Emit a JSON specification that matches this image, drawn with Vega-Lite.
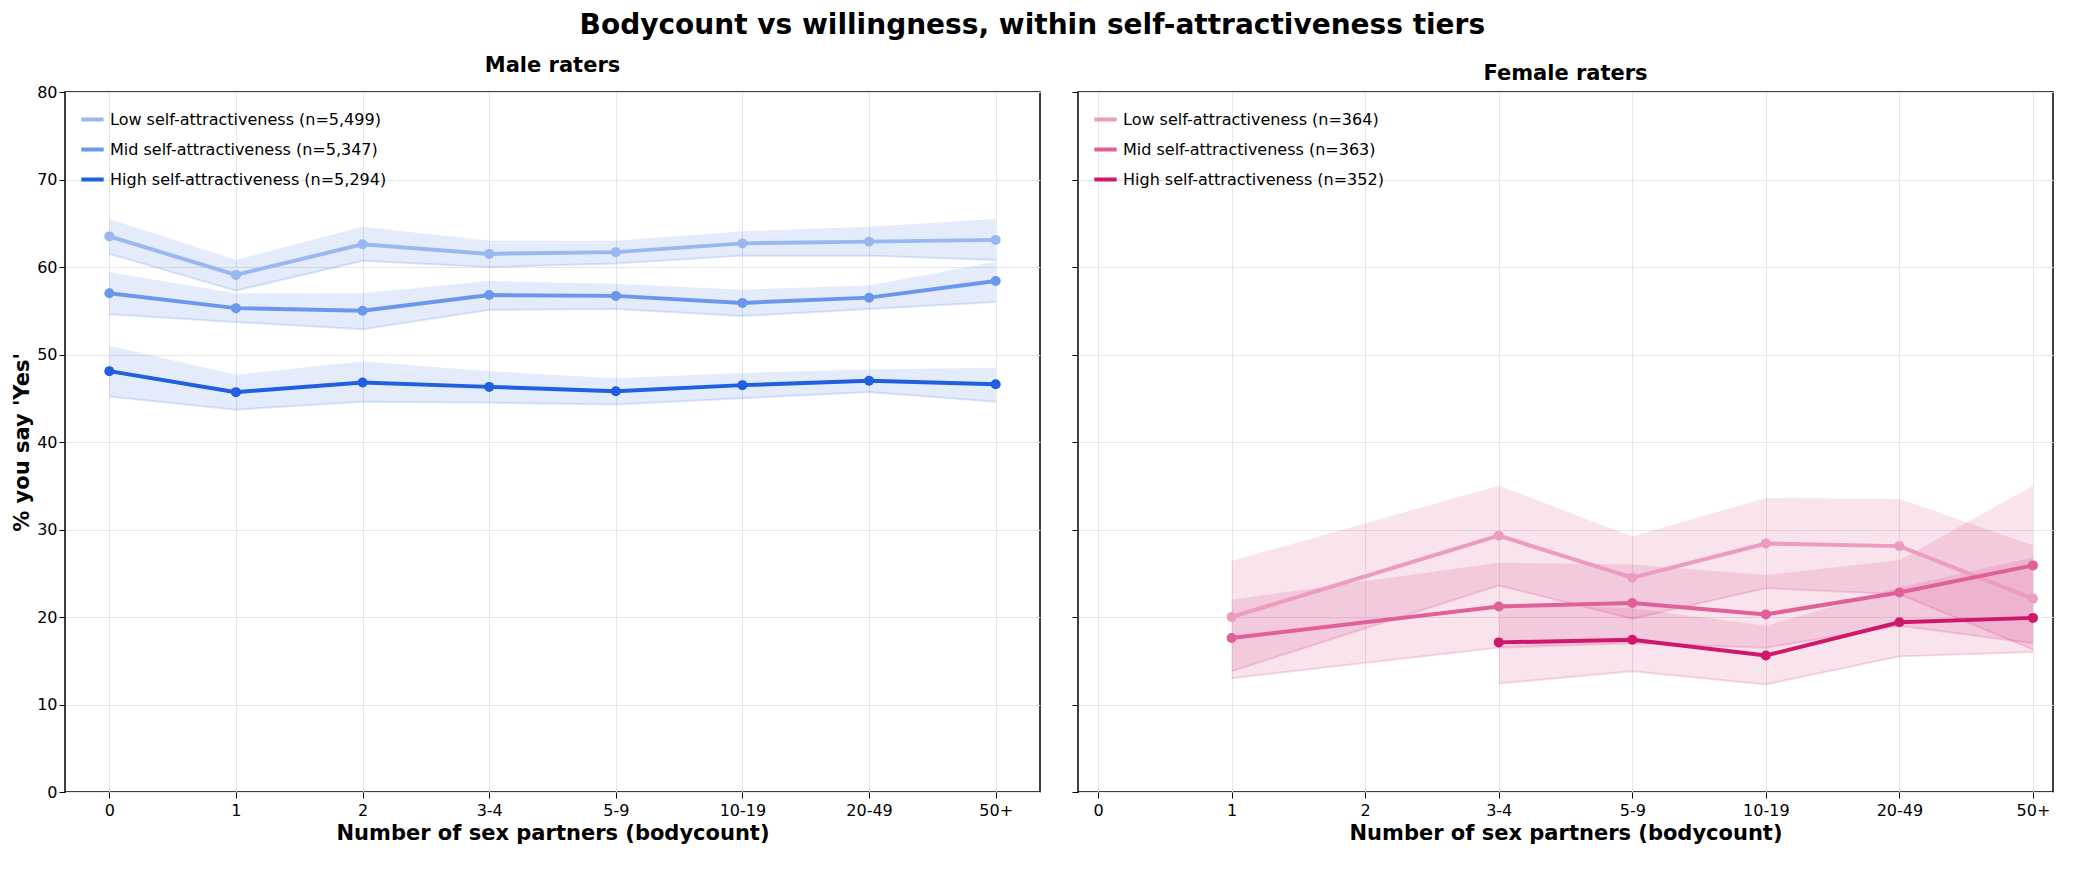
{
  "$schema": "https://vega.github.io/schema/vega-lite/v6.json",
  "title": {"text": "Bodycount vs willingness, within self-attractiveness tiers", "fontSize": 28, "fontWeight": "bold", "font": "DejaVu Sans", "anchor": "middle", "offset": 14},
  "padding": {"left": 10, "right": 10, "top": 12, "bottom": 6},
  "config": {
    "font": "DejaVu Sans",
    "view": {"stroke": "black", "strokeWidth": 1.5},
    "axis": {"labelFontSize": 16, "titleFontSize": 21, "titleFontWeight": "bold", "labelColor": "black", "titleColor": "black", "gridColor": "#e6e6e6", "tickColor": "black", "tickSize": 6, "domain": false},
    "legend": {"labelFontSize": 16, "labelColor": "black", "labelLimit": 500}
  },
  "datasets": {
    "d": [
      {"g": "M", "tier": "Low self-attractiveness (n=5,499)", "x": "0", "y": 63.5, "lo": 61.5, "hi": 65.5},
      {"g": "M", "tier": "Low self-attractiveness (n=5,499)", "x": "1", "y": 59.1, "lo": 57.3, "hi": 60.8},
      {"g": "M", "tier": "Low self-attractiveness (n=5,499)", "x": "2", "y": 62.6, "lo": 60.7, "hi": 64.6},
      {"g": "M", "tier": "Low self-attractiveness (n=5,499)", "x": "3-4", "y": 61.5, "lo": 60.0, "hi": 63.0},
      {"g": "M", "tier": "Low self-attractiveness (n=5,499)", "x": "5-9", "y": 61.7, "lo": 60.4, "hi": 63.0},
      {"g": "M", "tier": "Low self-attractiveness (n=5,499)", "x": "10-19", "y": 62.7, "lo": 61.3, "hi": 64.1},
      {"g": "M", "tier": "Low self-attractiveness (n=5,499)", "x": "20-49", "y": 62.9, "lo": 61.3, "hi": 64.6},
      {"g": "M", "tier": "Low self-attractiveness (n=5,499)", "x": "50+", "y": 63.1, "lo": 60.8, "hi": 65.5},
      {"g": "M", "tier": "Mid self-attractiveness (n=5,347)", "x": "0", "y": 57.0, "lo": 54.6, "hi": 59.4},
      {"g": "M", "tier": "Mid self-attractiveness (n=5,347)", "x": "1", "y": 55.3, "lo": 53.7, "hi": 57.0},
      {"g": "M", "tier": "Mid self-attractiveness (n=5,347)", "x": "2", "y": 55.0, "lo": 52.9, "hi": 57.0},
      {"g": "M", "tier": "Mid self-attractiveness (n=5,347)", "x": "3-4", "y": 56.8, "lo": 55.1, "hi": 58.4},
      {"g": "M", "tier": "Mid self-attractiveness (n=5,347)", "x": "5-9", "y": 56.7, "lo": 55.2, "hi": 58.1},
      {"g": "M", "tier": "Mid self-attractiveness (n=5,347)", "x": "10-19", "y": 55.9, "lo": 54.4, "hi": 57.4},
      {"g": "M", "tier": "Mid self-attractiveness (n=5,347)", "x": "20-49", "y": 56.5, "lo": 55.2, "hi": 57.9},
      {"g": "M", "tier": "Mid self-attractiveness (n=5,347)", "x": "50+", "y": 58.4, "lo": 56.0, "hi": 60.6},
      {"g": "M", "tier": "High self-attractiveness (n=5,294)", "x": "0", "y": 48.1, "lo": 45.2, "hi": 51.0},
      {"g": "M", "tier": "High self-attractiveness (n=5,294)", "x": "1", "y": 45.7, "lo": 43.7, "hi": 47.7},
      {"g": "M", "tier": "High self-attractiveness (n=5,294)", "x": "2", "y": 46.8, "lo": 44.6, "hi": 49.2},
      {"g": "M", "tier": "High self-attractiveness (n=5,294)", "x": "3-4", "y": 46.3, "lo": 44.5, "hi": 48.1},
      {"g": "M", "tier": "High self-attractiveness (n=5,294)", "x": "5-9", "y": 45.8, "lo": 44.3, "hi": 47.3},
      {"g": "M", "tier": "High self-attractiveness (n=5,294)", "x": "10-19", "y": 46.5, "lo": 45.0, "hi": 47.9},
      {"g": "M", "tier": "High self-attractiveness (n=5,294)", "x": "20-49", "y": 47.0, "lo": 45.7, "hi": 48.3},
      {"g": "M", "tier": "High self-attractiveness (n=5,294)", "x": "50+", "y": 46.6, "lo": 44.6, "hi": 48.5},
      {"g": "F", "tier": "Low self-attractiveness (n=364)", "x": "1", "y": 20.0, "lo": 13.8, "hi": 26.4},
      {"g": "F", "tier": "Low self-attractiveness (n=364)", "x": "3-4", "y": 29.3, "lo": 23.6, "hi": 35.0},
      {"g": "F", "tier": "Low self-attractiveness (n=364)", "x": "5-9", "y": 24.5, "lo": 19.8, "hi": 29.2},
      {"g": "F", "tier": "Low self-attractiveness (n=364)", "x": "10-19", "y": 28.4, "lo": 23.3, "hi": 33.6},
      {"g": "F", "tier": "Low self-attractiveness (n=364)", "x": "20-49", "y": 28.1, "lo": 22.6, "hi": 33.5},
      {"g": "F", "tier": "Low self-attractiveness (n=364)", "x": "50+", "y": 22.1, "lo": 16.3, "hi": 28.2},
      {"g": "F", "tier": "Mid self-attractiveness (n=363)", "x": "1", "y": 17.6, "lo": 13.0, "hi": 22.0},
      {"g": "F", "tier": "Mid self-attractiveness (n=363)", "x": "3-4", "y": 21.2, "lo": 16.5, "hi": 26.2},
      {"g": "F", "tier": "Mid self-attractiveness (n=363)", "x": "5-9", "y": 21.6, "lo": 17.0, "hi": 26.0},
      {"g": "F", "tier": "Mid self-attractiveness (n=363)", "x": "10-19", "y": 20.3, "lo": 16.5, "hi": 24.8},
      {"g": "F", "tier": "Mid self-attractiveness (n=363)", "x": "20-49", "y": 22.8, "lo": 19.0, "hi": 26.5},
      {"g": "F", "tier": "Mid self-attractiveness (n=363)", "x": "50+", "y": 25.9, "lo": 17.0, "hi": 35.0},
      {"g": "F", "tier": "High self-attractiveness (n=352)", "x": "3-4", "y": 17.1, "lo": 12.4, "hi": 21.5},
      {"g": "F", "tier": "High self-attractiveness (n=352)", "x": "5-9", "y": 17.4, "lo": 13.8, "hi": 21.0},
      {"g": "F", "tier": "High self-attractiveness (n=352)", "x": "10-19", "y": 15.6, "lo": 12.3, "hi": 19.0},
      {"g": "F", "tier": "High self-attractiveness (n=352)", "x": "20-49", "y": 19.4, "lo": 15.5, "hi": 23.4},
      {"g": "F", "tier": "High self-attractiveness (n=352)", "x": "50+", "y": 19.9, "lo": 16.0, "hi": 26.8}
    ]
  },
  "spacing": 29,
  "hconcat": [
    {
      "width": 975, "height": 700,
      "title": {"text": "Male raters", "fontSize": 21, "fontWeight": "bold", "offset": 8},
      "data": {"name": "d"},
      "transform": [{"filter": "datum.g == 'M'"}],
      "encoding": {
        "x": {"field": "x", "type": "point", "scale": {"domain": ["0", "1", "2", "3-4", "5-9", "10-19", "20-49", "50+"], "padding": 0.35}, "axis": {"title": "Number of sex partners (bodycount)", "labelAngle": 0, "grid": true, "labelPadding": 4}},
        "color": {"field": "tier", "type": "nominal", "sort": null, "scale": {"domain": ["Low self-attractiveness (n=5,499)", "Mid self-attractiveness (n=5,347)", "High self-attractiveness (n=5,294)"], "range": ["#9ab8f0", "#6b97ea", "#1f5fe0"]}, "legend": {"title": null, "orient": "top-left", "offset": 14, "symbolType": "stroke", "symbolStrokeWidth": 4, "symbolSize": 500, "rowPadding": 8}}
      },
      "layer": [
        {"mark": {"type": "area", "color": "#1f5fe0", "opacity": 0.12, "line": {"color": "#1f5fe0", "strokeOpacity": 0.15}}, "encoding": {"y": {"field": "lo", "type": "quantitative"}, "y2": {"field": "hi"}, "detail": {"field": "tier"}, "color": {"value": "#1f5fe0"}}},
        {"mark": {"type": "line", "strokeWidth": 4, "point": {"size": 100, "filled": true}}, "encoding": {"y": {"field": "y", "type": "quantitative", "scale": {"domain": [0, 80]}, "axis": {"title": "% you say 'Yes'", "tickCount": 8, "grid": true}}}}
      ]
    },
    {
      "width": 975, "height": 700,
      "title": {"text": "Female raters", "fontSize": 21, "fontWeight": "bold", "offset": 8},
      "data": {"name": "d"},
      "transform": [{"filter": "datum.g == 'F'"}],
      "encoding": {
        "x": {"field": "x", "type": "point", "scale": {"domain": ["0", "1", "2", "3-4", "5-9", "10-19", "20-49", "50+"], "padding": 0.15}, "axis": {"title": "Number of sex partners (bodycount)", "labelAngle": 0, "grid": true, "labelPadding": 4}},
        "color": {"field": "tier", "type": "nominal", "sort": null, "scale": {"domain": ["Low self-attractiveness (n=364)", "Mid self-attractiveness (n=363)", "High self-attractiveness (n=352)"], "range": ["#eb9cc0", "#e0609a", "#d0176b"]}, "legend": {"title": null, "orient": "top-left", "offset": 14, "symbolType": "stroke", "symbolStrokeWidth": 4, "symbolSize": 500, "rowPadding": 8}}
      },
      "layer": [
        {"mark": {"type": "area", "color": "#d0176b", "opacity": 0.12, "line": {"color": "#d0176b", "strokeOpacity": 0.15}}, "encoding": {"y": {"field": "lo", "type": "quantitative"}, "y2": {"field": "hi"}, "detail": {"field": "tier"}, "color": {"value": "#d0176b"}}},
        {"mark": {"type": "line", "strokeWidth": 4, "point": {"size": 100, "filled": true}}, "encoding": {"y": {"field": "y", "type": "quantitative", "scale": {"domain": [0, 80]}, "axis": {"title": null, "labels": false, "tickCount": 8, "grid": true}}}}
      ]
    }
  ],
  "resolve": {"scale": {"color": "independent"}}
}
